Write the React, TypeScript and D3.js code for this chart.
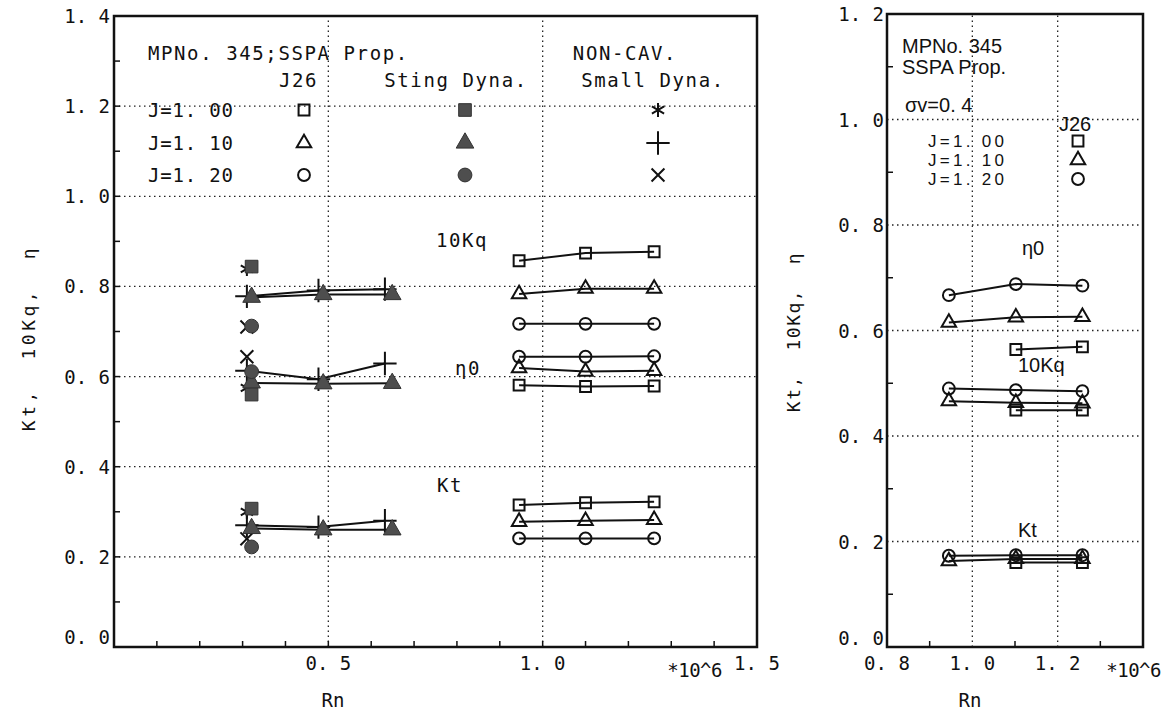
import * as d3 from 'd3';
import React, { useEffect, useRef } from 'react';

// ---------- left chart: J26 (NON-CAV.), open markers ----------
const j26Rn = [0.945, 1.10, 1.26];
const j26Kq100 = [0.857, 0.874, 0.877];
const j26Kq110 = [0.783, 0.795, 0.795];
const j26Kq120 = [0.717, 0.717, 0.717];
const j26Eta100 = [0.581, 0.578, 0.579];
const j26Eta110 = [0.619, 0.611, 0.613];
const j26Eta120 = [0.644, 0.644, 0.645];
const j26Kt100 = [0.315, 0.320, 0.322];
const j26Kt110 = [0.278, 0.280, 0.282];
const j26Kt120 = [0.241, 0.241, 0.241];

// ---------- left chart: Sting Dyna., filled markers ----------
const stingRn = [0.321, 0.488, 0.649];
const stingKq110 = [0.776, 0.782, 0.782];
const stingEta110 = [0.586, 0.584, 0.585];
const stingKt110 = [0.263, 0.260, 0.260];
const stingRnLow = [0.321];
const stingKq100 = [0.844];
const stingKq120 = [0.712];
const stingEta100 = [0.560];
const stingEta120 = [0.611];
const stingKt100 = [0.307];
const stingKt120 = [0.222];

// ---------- left chart: Small Dyna. ----------
const smallRn = [0.31, 0.477, 0.632];
const smallKq110 = [0.778, 0.791, 0.794];
const smallEta110 = [0.613, 0.594, 0.629];
const smallKt110 = [0.270, 0.266, 0.280];
const smallRnLow = [0.31];
const smallKq100 = [0.839];
const smallKq120 = [0.710];
const smallEta100 = [0.575];
const smallEta120 = [0.644];
const smallKt100 = [0.300];
const smallKt120 = [0.240];

// ---------- right chart: J26, sigma v = 0.4 ----------
const rightRn = [0.945, 1.102, 1.258];
const rightEta100 = [null, 0.564, 0.569];
const rightEta110 = [0.615, 0.625, 0.626];
const rightEta120 = [0.667, 0.688, 0.685];
const rightKq100 = [null, 0.449, 0.449];
const rightKq110 = [0.466, 0.463, 0.462];
const rightKq120 = [0.490, 0.487, 0.485];
const rightKt100 = [null, 0.160, 0.160];
const rightKt110 = [0.163, 0.167, 0.167];
const rightKt120 = [0.173, 0.174, 0.174];

// ticks
const leftYTicks = [0, 0.2, 0.4, 0.6, 0.8, 1.0, 1.2, 1.4];
const leftXTicks = [0.5, 1.0, 1.5];
const rightYTicks = [0, 0.2, 0.4, 0.6, 0.8, 1.0, 1.2];
const rightXTicks = [0.8, 1.0, 1.2];

const MONO = '"DejaVu Sans Mono", "Liberation Mono", monospace';
const SANS = '"Liberation Sans", Arial, sans-serif';
const fmt = (d) => d3.format('.1f')(d).replace('.', '. ');

const symbols = {
  sq: [d3.symbolSquare2, 150],
  tri: [d3.symbolTriangle2, 150],
  cir: [d3.symbolCircle, 110],
  fsq: [d3.symbolSquare, 160],
  ftri: [d3.symbolTriangle, 135],
  fcir: [d3.symbolCircle, 150],
  ast: [d3.symbolAsterisk, 140],
  plus: [d3.symbolPlus, 180],
  times: [d3.symbolTimes, 110],
};

function marker(g, kind, cx, cy) {
  const [type, size] = symbols[kind];
  const filled = kind[0] === 'f';
  g.append('path')
    .attr('d', d3.symbol(type, size)())
    .attr('transform', `translate(${cx},${cy})`)
    .attr('fill', filled ? '#4e4e4e' : 'none')
    .attr('stroke', filled ? '#333' : '#111')
    .attr('stroke-width', filled ? 1 : 2);
}

function series(g, x, y, rn, vals, kind, withLine = true) {
  if (withLine) {
    const line = d3.line()
      .defined((d) => d[1] != null)
      .x((d) => x(d[0]))
      .y((d) => y(d[1]));
    g.append('path')
      .datum(rn.map((r, i) => [r, vals[i]]))
      .attr('fill', 'none')
      .attr('stroke', '#111')
      .attr('stroke-width', 2)
      .attr('d', line);
  }
  rn.forEach((r, i) => {
    if (vals[i] != null) marker(g, kind, x(r), y(vals[i]));
  });
}

function frame(svg, x, y, xGrid, yGrid, xMinor, yMinor) {
  const [x0, x1] = x.range();
  const [y0, y1] = y.range();
  const grid = svg.append('g').attr('stroke', '#222').attr('stroke-width', 1.3).attr('stroke-dasharray', '1.5,3.5');
  xGrid.forEach((v) => grid.append('line').attr('x1', x(v)).attr('x2', x(v)).attr('y1', y0).attr('y2', y1));
  yGrid.forEach((v) => grid.append('line').attr('x1', x0).attr('x2', x1).attr('y1', y(v)).attr('y2', y(v)));

  const ticks = svg.append('g').attr('stroke', '#111').attr('stroke-width', 1.5);
  xMinor.forEach((v) => ticks.append('line').attr('x1', x(v)).attr('x2', x(v)).attr('y1', y0).attr('y2', y0 - 6));
  yMinor.forEach((v) => ticks.append('line').attr('x1', x0).attr('x2', x0 + 6).attr('y1', y(v)).attr('y2', y(v)));

  svg.append('rect')
    .attr('x', x0).attr('y', y1)
    .attr('width', x1 - x0).attr('height', y0 - y1)
    .attr('fill', 'none').attr('stroke', '#111').attr('stroke-width', 2.5);
}

function text(svg, str, x, y, opts = {}) {
  return svg.append('text')
    .attr('x', x).attr('y', y)
    .attr('dominant-baseline', 'central')
    .attr('text-anchor', opts.anchor || 'start')
    .attr('font-family', opts.font || MONO)
    .attr('font-size', opts.size || 18)
    .attr('letter-spacing', opts.ls || 0)
    .attr('fill', '#111')
    .style('white-space', 'pre')
    .text(str);
}

export default function App() {
  const svgRef = useRef(null);

  useEffect(() => {
    const svg = d3.select(svgRef.current);
    svg.selectAll('*').remove();
    svg.append('rect').attr('width', 1166).attr('height', 713).attr('fill', 'white');

    // ================= LEFT CHART =================
    const xL = d3.scaleLinear().domain([0, 1.5]).range([114, 757]);
    const yL = d3.scaleLinear().domain([0, 1.4]).range([647, 16]);
    frame(svg, xL, yL, [0.5, 1.0], [0.2, 0.4, 0.6, 0.8, 1.0, 1.2],
      d3.range(1, 15).map((i) => i / 10), d3.range(1, 14).map((i) => i / 10));

    const gL = svg.append('g');
    // J26
    series(gL, xL, yL, j26Rn, j26Kq100, 'sq');
    series(gL, xL, yL, j26Rn, j26Kq110, 'tri');
    series(gL, xL, yL, j26Rn, j26Kq120, 'cir');
    series(gL, xL, yL, j26Rn, j26Eta100, 'sq');
    series(gL, xL, yL, j26Rn, j26Eta110, 'tri');
    series(gL, xL, yL, j26Rn, j26Eta120, 'cir');
    series(gL, xL, yL, j26Rn, j26Kt100, 'sq');
    series(gL, xL, yL, j26Rn, j26Kt110, 'tri');
    series(gL, xL, yL, j26Rn, j26Kt120, 'cir');
    // Small Dyna.
    series(gL, xL, yL, smallRn, smallKq110, 'plus');
    series(gL, xL, yL, smallRn, smallEta110, 'plus');
    series(gL, xL, yL, smallRn, smallKt110, 'plus');
    series(gL, xL, yL, smallRnLow, smallKq100, 'ast', false);
    series(gL, xL, yL, smallRnLow, smallKq120, 'times', false);
    series(gL, xL, yL, smallRnLow, smallEta100, 'ast', false);
    series(gL, xL, yL, smallRnLow, smallEta120, 'times', false);
    series(gL, xL, yL, smallRnLow, smallKt100, 'ast', false);
    series(gL, xL, yL, smallRnLow, smallKt120, 'times', false);
    // Sting Dyna.
    series(gL, xL, yL, stingRn, stingKq110, 'ftri');
    series(gL, xL, yL, stingRn, stingEta110, 'ftri');
    series(gL, xL, yL, stingRn, stingKt110, 'ftri');
    series(gL, xL, yL, stingRnLow, stingKq100, 'fsq', false);
    series(gL, xL, yL, stingRnLow, stingKq120, 'fcir', false);
    series(gL, xL, yL, stingRnLow, stingEta100, 'fsq', false);
    series(gL, xL, yL, stingRnLow, stingEta120, 'fcir', false);
    series(gL, xL, yL, stingRnLow, stingKt100, 'fsq', false);
    series(gL, xL, yL, stingRnLow, stingKt120, 'fcir', false);

    const tk = { size: 19 };
    leftYTicks.forEach((v) => text(svg, fmt(v), 110, yL(v) - (v === 0 ? 10 : 0), { ...tk, anchor: 'end' }));
    leftXTicks.forEach((v) => text(svg, fmt(v), xL(v), 663, { ...tk, anchor: 'middle' }));
    text(svg, '*10^6', 722, 670, { ...tk, anchor: 'end', ls: -0.5 });
    text(svg, 'Rn', 333, 700, { ...tk, anchor: 'middle' });
    text(svg, 'Kt,  10Kq,  η', 0, 0, { anchor: 'middle', size: 18, ls: 3.5 })
      .attr('transform', 'translate(28,338) rotate(-90)');

    // legend block
    const lg = { size: 19, ls: 1.6 };
    text(svg, 'MPNo. 345;SSPA Prop.', 148, 53, lg);
    text(svg, 'NON-CAV.', 625, 53, { ...lg, anchor: 'middle' });
    text(svg, 'J26', 318, 80, { ...lg, anchor: 'end' });
    text(svg, 'Sting Dyna.', 456, 80, { ...lg, anchor: 'middle' });
    text(svg, 'Small Dyna.', 653, 80, { ...lg, anchor: 'middle' });
    const rowsY = [110, 143, 175];
    const rowsJ = ['J=1. 00', 'J=1. 10', 'J=1. 20'];
    rowsJ.forEach((t, i) => text(svg, t, 148, rowsY[i], { ...lg, ls: 0.8 }));
    ['sq', 'tri', 'cir'].forEach((k, i) => marker(svg, k, 304, rowsY[i]));
    ['fsq', 'ftri', 'fcir'].forEach((k, i) => marker(svg, k, 465, rowsY[i]));
    ['ast', 'plus', 'times'].forEach((k, i) => marker(svg, k, 658, rowsY[i]));

    text(svg, '10Kq', 436, 240, lg);
    text(svg, 'η0', 455, 368, lg);
    text(svg, 'Kt', 437, 485, lg);

    // ================= RIGHT CHART =================
    const xR = d3.scaleLinear().domain([0.8, 1.4]).range([887, 1143]);
    const yR = d3.scaleLinear().domain([0, 1.2]).range([647, 14]);
    frame(svg, xR, yR, [1.0, 1.2], [0.2, 0.4, 0.6, 0.8, 1.0],
      [0.9, 1.1, 1.3], d3.range(1, 12, 2).map((i) => i / 10));

    const gR = svg.append('g');
    series(gR, xR, yR, rightRn, rightEta100, 'sq');
    series(gR, xR, yR, rightRn, rightEta110, 'tri');
    series(gR, xR, yR, rightRn, rightEta120, 'cir');
    series(gR, xR, yR, rightRn, rightKq100, 'sq');
    series(gR, xR, yR, rightRn, rightKq110, 'tri');
    series(gR, xR, yR, rightRn, rightKq120, 'cir');
    series(gR, xR, yR, rightRn, rightKt100, 'sq');
    series(gR, xR, yR, rightRn, rightKt110, 'tri');
    series(gR, xR, yR, rightRn, rightKt120, 'cir');

    rightYTicks.forEach((v) => text(svg, fmt(v), 884, yR(v) - (v === 0 ? 9 : 0), { ...tk, anchor: 'end' }));
    rightXTicks.forEach((v) => text(svg, fmt(v), xR(v), 663, { ...tk, anchor: 'middle' }));
    text(svg, '*10^6', 1161, 670, { ...tk, anchor: 'end', ls: -0.5 });
    text(svg, 'Rn', 970, 700, { ...tk, anchor: 'middle' });
    text(svg, 'Kt,  10Kq,  η', 0, 0, { anchor: 'middle', size: 18, ls: 1.5 })
      .attr('transform', 'translate(793,332) rotate(-90)');

    const rs = { font: SANS, size: 20 };
    text(svg, 'MPNo. 345', 902, 46, rs);
    text(svg, 'SSPA Prop.', 902, 67, rs);
    text(svg, 'σv=0. 4', 905, 105, rs);
    text(svg, 'J26', 1059, 124, rs);
    const rRowsY = [141, 160, 179];
    rowsJ.forEach((t, i) => text(svg, t, 928, rRowsY[i], { ...rs, size: 17, ls: 3.3 }));
    ['sq', 'tri', 'cir'].forEach((k, i) => marker(svg, k, 1078, rRowsY[i]));
    text(svg, 'η0', 1022, 248, rs);
    text(svg, '10Kq', 1018, 365, rs);
    text(svg, 'Kt', 1018, 530, rs);
  }, []);

  return (
    <svg
      ref={svgRef}
      width={1166}
      height={713}
      style={{ position: 'absolute', left: 0, top: 0 }}
    />
  );
}
